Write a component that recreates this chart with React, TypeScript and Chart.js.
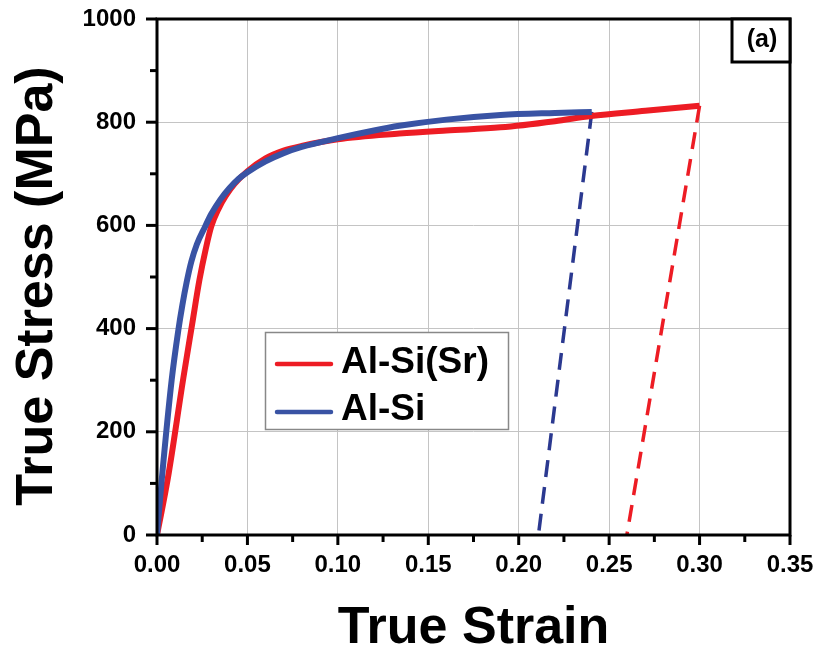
import React, { useEffect, useRef } from "react";
import { Chart, registerables } from "chart.js";

Chart.register(...registerables);

// ---- Data ----
const seriesLabels = ["Al-Si(Sr)", "Al-Si"];

const redStrain = [0, 0.006, 0.0146, 0.0195, 0.0235, 0.027, 0.030, 0.034, 0.038, 0.043, 0.050, 0.060, 0.070, 0.080, 0.100, 0.134, 0.160, 0.190, 0.220, 0.240, 0.270, 0.300];
const redStress = [0, 110, 305, 410, 495, 555, 598, 632, 657, 681, 705, 730, 745, 754, 767, 778, 784, 790, 802, 812, 822, 832];

const blueStrain = [0, 0.0026, 0.0081, 0.0118, 0.0140, 0.0164, 0.019, 0.022, 0.0265, 0.030, 0.035, 0.040, 0.045, 0.050, 0.060, 0.070, 0.080, 0.100, 0.120, 0.134, 0.160, 0.190, 0.220, 0.2404];
const blueStress = [0, 106, 300, 397, 445, 490, 530, 563, 597, 622, 650, 672, 690, 703, 724, 740, 752, 769, 784, 793, 805, 814, 818, 820];

const redUnloadStrain = [0.300, 0.2598];
const redUnloadStress = [832, 0];
const blueUnloadStrain = [0.2404, 0.2109];
const blueUnloadStress = [820, 0];

const xMajorTicks = [0, 0.05, 0.1, 0.15, 0.2, 0.25, 0.3, 0.35];
const xMinorTicks = [0.025, 0.075, 0.125, 0.175, 0.225, 0.275, 0.325];
const yMajorTicks = [0, 200, 400, 600, 800, 1000];
const yMinorTicks = [100, 300, 500, 700, 900];

const xTitle = "True Strain";
const yTitle = "True Stress (MPa)";
const panelLabel = "(a)";

const RED = "#ed1c24";
const BLUE = "#3953a4";
const DARKBLUE = "#2b3990";
const FONT = "'Liberation Sans', Arial, sans-serif";

const zip = (xs: number[], ys: number[]) => xs.map((x, i) => ({ x, y: ys[i] }));

const noPad = (s: any) => {
  s.paddingTop = 0;
  s.paddingBottom = 0;
  s.paddingLeft = 0;
  s.paddingRight = 0;
};

const decorPlugin = {
  id: "decor",
  afterDraw(chart: any) {
    const ctx = chart.ctx;
    const { left, right, top, bottom } = chart.chartArea;
    const xs = chart.scales.x;
    const ys = chart.scales.y;
    ctx.save();
    // frame
    ctx.strokeStyle = "#000";
    ctx.lineWidth = 3;
    ctx.strokeRect(left, top, right - left, bottom - top);
    // ticks
    ctx.lineCap = "butt";
    const drawX = (v: number, len: number) => {
      const px = xs.getPixelForValue(v);
      ctx.beginPath();
      ctx.moveTo(px, bottom);
      ctx.lineTo(px, bottom + len);
      ctx.stroke();
    };
    const drawY = (v: number, len: number) => {
      const py = ys.getPixelForValue(v);
      ctx.beginPath();
      ctx.moveTo(left, py);
      ctx.lineTo(left - len, py);
      ctx.stroke();
    };
    xMajorTicks.forEach((v) => drawX(v, 10));
    xMinorTicks.forEach((v) => drawX(v, 7));
    yMajorTicks.forEach((v) => drawY(v, 11));
    yMinorTicks.forEach((v) => drawY(v, 7));

    // panel label box
    ctx.fillStyle = "#fff";
    ctx.fillRect(right - 58, top, 58, 43);
    ctx.strokeRect(right - 58, top, 58, 43);
    ctx.fillStyle = "#000";
    ctx.font = `bold 25px ${FONT}`;
    ctx.textAlign = "center";
    ctx.textBaseline = "middle";
    ctx.fillText(panelLabel, right - 28, top + 21);

    // legend
    const lx = left + 108;
    const ly = top + 313;
    ctx.fillStyle = "#fff";
    ctx.fillRect(lx, ly, 243, 97);
    ctx.strokeStyle = "#888";
    ctx.lineWidth = 1.5;
    ctx.strokeRect(lx + 0.5, ly + 0.5, 243, 97);
    const ds = chart.data.datasets;
    const rows = [
      { c: ds[0].borderColor, t: ds[0].label, ly: ly + 32, ty: ly + 41 },
      { c: ds[1].borderColor, t: ds[1].label, ly: ly + 80, ty: ly + 88 },
    ];
    ctx.font = `bold 37px ${FONT}`;
    ctx.textAlign = "left";
    ctx.textBaseline = "alphabetic";
    rows.forEach((r) => {
      ctx.strokeStyle = r.c;
      ctx.lineWidth = 4.5;
      ctx.lineCap = "round";
      ctx.beginPath();
      ctx.moveTo(lx + 12, r.ly);
      ctx.lineTo(lx + 66, r.ly);
      ctx.stroke();
      ctx.fillStyle = "#000";
      ctx.fillText(r.t, lx + 76, r.ty);
    });

    // axis titles
    ctx.fillStyle = "#000";
    ctx.font = `bold 52px ${FONT}`;
    ctx.textAlign = "center";
    ctx.textBaseline = "alphabetic";
    ctx.fillText(xTitle, (left + right) / 2, 643);
    ctx.save();
    ctx.translate(52, (top + bottom) / 2 + 9);
    ctx.rotate(-Math.PI / 2);
    ctx.fillText(yTitle, 0, 0);
    ctx.restore();
    ctx.restore();
  },
};

export default function App() {
  const ref = useRef<HTMLCanvasElement | null>(null);
  useEffect(() => {
    document.body.style.margin = "0";
    if (!ref.current) return;
    const chart = new Chart(ref.current, {
      type: "line",
      data: {
        datasets: [
          {
            label: seriesLabels[0],
            data: zip(redStrain, redStress),
            borderColor: RED,
            borderWidth: 6,
            pointRadius: 0,
            cubicInterpolationMode: "monotone",
            order: 2,
          },
          {
            label: seriesLabels[1],
            data: zip(blueStrain, blueStress),
            borderColor: BLUE,
            borderWidth: 6,
            pointRadius: 0,
            cubicInterpolationMode: "monotone",
            order: 1,
          },
          {
            label: "unload-red",
            data: zip(redUnloadStrain, redUnloadStress),
            borderColor: RED,
            borderWidth: 3.5,
            borderDash: [17, 10],
            pointRadius: 0,
            order: 3,
          },
          {
            label: "unload-blue",
            data: zip(blueUnloadStrain, blueUnloadStress),
            borderColor: DARKBLUE,
            borderWidth: 3.5,
            borderDash: [17, 10],
            pointRadius: 0,
            order: 3,
          },
        ],
      },
      options: {
        animation: false,
        responsive: false,
        layout: { padding: { top: 19, right: 30, left: 0, bottom: 0 } },
        plugins: { legend: { display: false }, tooltip: { enabled: false }, title: { display: false } },
        scales: {
          x: {
            type: "linear",
            min: 0,
            max: 0.35,
            afterFit: (s: any) => { s.height = 114; noPad(s); },
            border: { display: false },
            grid: { color: "#c4c4c4", lineWidth: 1, drawTicks: false },
            ticks: {
              stepSize: 0.05,
              padding: 16,
              color: "#000",
              font: { family: FONT, size: 24, weight: "bold" },
              callback: (v: any) => Number(v).toFixed(2),
            },
          },
          y: {
            type: "linear",
            min: 0,
            max: 1000,
            afterFit: (s: any) => { s.width = 157; noPad(s); },
            border: { display: false },
            grid: { color: "#c4c4c4", lineWidth: 1, drawTicks: false },
            ticks: {
              stepSize: 200,
              padding: 21,
              color: "#000",
              font: { family: FONT, size: 24, weight: "bold" },
              callback: (v: any) => String(Math.round(Number(v))),
            },
          },
        },
      },
      plugins: [decorPlugin],
    } as any);
    return () => chart.destroy();
  }, []);
  return <canvas ref={ref} width={820} height={649} style={{ display: "block" }} />;
}
